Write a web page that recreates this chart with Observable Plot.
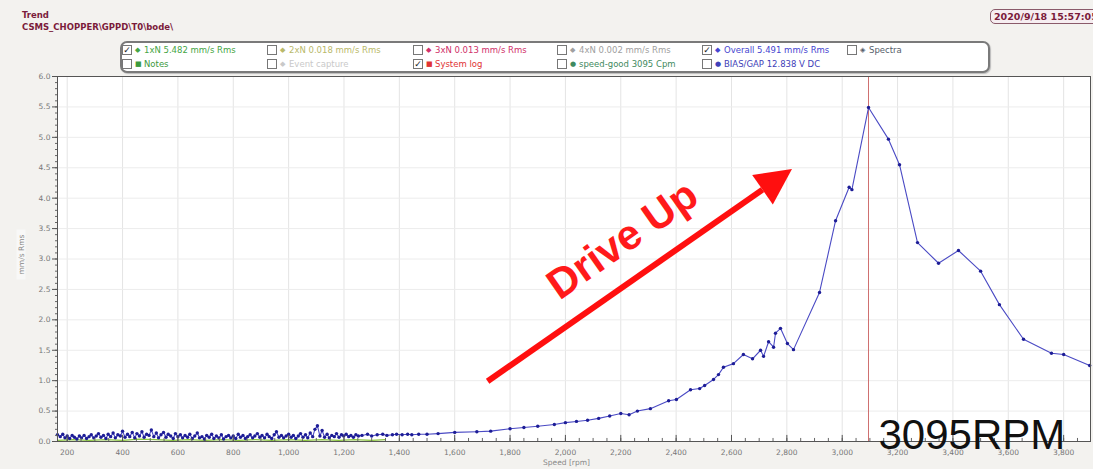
<!DOCTYPE html>
<html>
<head>
<meta charset="utf-8">
<script src="https://cdn.jsdelivr.net/npm/d3@7"></script>
<script src="https://cdn.jsdelivr.net/npm/@observablehq/plot@0.6"></script>
<style>
  body { margin: 0; background: #f3f2ef; font-family: "DejaVu Sans", sans-serif; }
  #wrap { position: relative; width: 1093px; height: 469px; overflow: hidden; }
  #chart { position: absolute; left: 0; top: 0; }
  .abs { position: absolute; white-space: nowrap; }
  .hdr { font-size: 8.5px; font-weight: bold; color: #7b1b3b; left: 22px; }
  #date { left: 990px; top: 9px; width: 130px; height: 13px; border: 1px solid #8a5a6a; border-radius: 5px;
          background: #f6eef1; font-size: 9.5px; font-weight: bold; color: #7b1b3b; line-height: 13px; padding-left: 3px; }
  #legend { left: 120px; top: 41px; width: 866px; height: 28px; border: 2px solid #7a7a7a; border-radius: 7px;
            background: #fff; box-shadow: 1px 1px 1px #bbb; }
  .item { position: absolute; font-size: 8.5px; line-height: 10px; }
  .box { position: absolute; top: 0; width: 8px; height: 8px; border: 1px solid #777; background: #fff;
         font-size: 9px; line-height: 8px; text-align: center; color: #222; }
  .mk { position: absolute; top: 0; font-size: 7px; line-height: 10px; }
  .lab { position: absolute; top: 0; left: 22px; }
  #ylab { left: -4px; top: 250px; width: 50px; text-align: center; transform: rotate(-90deg);
          font-size: 7.5px; color: #888; background: #f8f8f7; }
  #xlab { left: 543px; top: 458px; font-size: 7.5px; color: #888; }
</style>
</head>
<body>
<div id="wrap">
  <div id="chart"></div>
  <div class="abs hdr" style="top:10px">Trend</div>
  <div class="abs hdr" style="top:22px">CSMS_CHOPPER\GPPD\T0\bode\</div>
  <div class="abs" id="date">2020/9/18 15:57:05</div>
  <div class="abs" id="legend"></div>
  <div class="abs" id="ylab">mm/s Rms</div>
  <div class="abs" id="xlab">Speed [rpm]</div>
</div>
<script>
// Overall vibration amplitude (mm/s Rms) against machine speed (rpm) during run-up
const speedRpm = [
  165,175,184,192,200,209,218,226,235,244,252,261,270,279,287,296,305,313,322,331,
  340,348,357,366,374,383,392,400,409,418,426,435,444,452,461,470,478,487,496,504,
  513,522,530,539,548,557,565,574,583,591,600,609,617,626,635,643,652,661,670,678,
  687,696,704,713,722,730,739,748,757,765,774,783,791,800,809,818,826,835,844,852,
  861,870,878,887,896,904,913,922,930,939,948,956,965,974,982,991,1000,1009,1017,1026,
  1035,1043,1052,1061,1069,1078,1087,1095,1104,1113,1121,1130,1139,1147,1156,1165,1173,1182,1191,1199,
  1208,1217,1225,1234,1243,1252,1265,1285,1300,1320,1340,1355,1375,1390,1410,1430,1445,1470,1500,1540,
  1600,1680,1730,1800,1850,1900,1960,2000,2040,2080,2120,2160,2200,2230,2260,2307,2373,2401,2452,2485,
  2503,2535,2553,2571,2607,2643,2676,2705,2716,2734,2752,2759,2777,2802,2824,2918,2976,3025,3035,3095,
  3167,3207,3272,3348,3420,3500,3568,3655,3756,3800,3894
];
const overallMmS = [
  0.11,0.08,0.12,0.06,0.09,0.05,0.10,0.07,0.04,0.09,0.06,0.10,0.05,0.08,0.11,0.06,0.09,0.13,0.07,0.10,
  0.05,0.12,0.08,0.14,0.06,0.11,0.09,0.17,0.07,0.12,0.08,0.15,0.06,0.13,0.09,0.16,0.07,0.12,0.10,0.19,
  0.08,0.14,0.06,0.11,0.15,0.07,0.12,0.09,0.05,0.13,0.08,0.11,0.06,0.10,0.07,0.12,0.05,0.09,0.14,0.06,
  0.08,0.04,0.10,0.07,0.12,0.05,0.09,0.06,0.11,0.04,0.08,0.10,0.06,0.09,0.05,0.12,0.07,0.10,0.05,0.08,
  0.11,0.06,0.09,0.13,0.07,0.10,0.06,0.12,0.08,0.05,0.11,0.16,0.07,0.10,0.06,0.09,0.12,0.07,0.10,0.05,
  0.09,0.13,0.07,0.11,0.06,0.14,0.08,0.20,0.26,0.09,0.18,0.07,0.12,0.06,0.10,0.08,0.13,0.07,0.11,0.09,
  0.12,0.08,0.10,0.07,0.11,0.09,0.10,0.12,0.09,0.11,0.12,0.10,0.11,0.12,0.11,0.12,0.11,0.12,0.12,0.13,
  0.15,0.16,0.17,0.21,0.23,0.25,0.28,0.31,0.33,0.35,0.38,0.42,0.46,0.44,0.50,0.54,0.67,0.69,0.85,0.87,
  0.92,1.02,1.10,1.22,1.28,1.43,1.36,1.50,1.40,1.64,1.55,1.78,1.86,1.61,1.51,2.45,3.63,4.18,4.14,5.49,
  4.97,4.55,3.27,2.93,3.14,2.80,2.25,1.68,1.45,1.43,1.25
];

// 1xN amplitude, visible below the overall trace at low speed
const oneXRpm = [165,220,280,340,400,460,520,580,640,700,760,820,880,940,1000,1060,1120,1180,1240,1300,1350];
const oneXMmS = [0.02,0.03,0.02,0.03,0.02,0.04,0.03,0.02,0.03,0.02,0.03,0.02,0.03,0.02,0.03,0.02,0.03,0.02,0.03,0.02,0.03];

// Axis ticks
const xTicks = d3.range(200, 3801, 200);
const xMinor = d3.range(200, 3851, 50);
const yTicks = d3.range(0, 6.01, 0.5);
const yMinor = d3.range(0, 6.01, 0.1);

// Cursor speed and annotations
const cursorRpm = [3095];
const cursorLabel = ["3095RPM"];
const cursorLabelAt = [{rpm: 3131, mms: 0}];
const arrowFrom = {rpm: 1719, mms: 0.99};
const arrowTo = {rpm: 2712, mms: 4.14};
const arrowText = ["Drive Up"];
const arrowTextAt = [{rpm: 2206, mms: 3.31}];

// Legend entries
const legendLabels = [
  "1xN 5.482 mm/s Rms", "Notes",
  "2xN 0.018 mm/s Rms", "Event capture",
  "3xN 0.013 mm/s Rms", "System log",
  "4xN 0.002 mm/s Rms", "speed-good 3095 Cpm",
  "Overall 5.491 mm/s Rms", "BIAS/GAP 12.838 V DC",
  "Spectra"
];
const legendColors = ["#45a545","#3d9a3d","#b9b96a","#c9c9c9","#d0306a","#e03333","#a0a0a0","#3f8a60","#4545d0","#4040b8","#55606a"];
const legendMarks = ["◆","■","◆","◆","◆","■","◆","●","◆","●","◈"];
const legendChecked = [true,false,false,false,false,true,false,false,true,false,false];

const series = speedRpm.map((rpm, i) => ({rpm, mms: overallMmS[i]}));
const oneX = oneXRpm.map((rpm, i) => ({rpm, mms: oneXMmS[i]}));

const chart = Plot.plot({
  width: 1093,
  height: 469,
  marginLeft: 57,
  marginTop: 76,
  marginRight: 3,
  marginBottom: 28,
  style: {fontFamily: "DejaVu Sans, sans-serif", fontSize: "7.5px", color: "#777", background: "transparent"},
  x: {domain: [165, 3897], label: null},
  y: {domain: [0, 6], label: null},
  marks: [
    Plot.frame({fill: "white", stroke: "none"}),
    Plot.gridX(xTicks, {stroke: "#e4e4e4", strokeOpacity: 1}),
    Plot.gridY(yTicks, {stroke: "#ececec", strokeOpacity: 1}),
    Plot.ruleX(cursorRpm, {stroke: "#cf7070", strokeWidth: 1}),
    Plot.line(oneX, {x: "rpm", y: "mms", stroke: "#8cc63f", strokeWidth: 1.2}),
    Plot.line(series, {x: "rpm", y: "mms", stroke: "#4a4ac4", strokeWidth: 1.1}),
    Plot.dot(series, {x: "rpm", y: "mms", r: 1.7, fill: "#1d1d96", stroke: "none"}),
    Plot.ruleX(xMinor, {y1: 0, y2: 0.05, stroke: "#666"}),
    Plot.ruleX(xTicks, {y1: 0, y2: 0.1, stroke: "#555"}),
    Plot.frame({stroke: "#555"}),
    Plot.axisX(xTicks, {tickSize: 0, tickPadding: 8, tickFormat: d3.format(","), fill: "#777"}),
    Plot.axisY(yMinor, {tickSize: 2, tickFormat: () => "", stroke: "#666"}),
    Plot.axisY(yTicks, {tickSize: 5, tickPadding: 2, tickFormat: d3.format(".1f"), fill: "#777", stroke: "#555"}),
    Plot.link([{x1: arrowFrom.rpm, y1: arrowFrom.mms, x2: arrowTo.rpm, y2: arrowTo.mms}],
      {x1: "x1", y1: "y1", x2: "x2", y2: "y2", stroke: "#ff0f0f", strokeWidth: 6}),
    Plot.vector([arrowTo], {x: "rpm", y: "mms", shape: "spike", anchor: "start",
      length: 36, r: 18, rotate: 55, fill: "#ff0f0f", stroke: "none"}),
    Plot.text(arrowText, {x: () => arrowTextAt[0].rpm, y: () => arrowTextAt[0].mms, text: d => d,
      rotate: -35, fontSize: 42, fontWeight: "bold", fill: "#ff1a1a", fontFamily: "Liberation Sans, sans-serif"}),
    Plot.text(cursorLabel, {x: () => cursorLabelAt[0].rpm, y: () => cursorLabelAt[0].mms, text: d => d,
      textAnchor: "start", lineAnchor: "bottom", dy: 7, fontSize: 42, fill: "#111",
      fontFamily: "Liberation Sans, sans-serif"})
  ]
});
document.getElementById("chart").appendChild(chart);

// Legend panel
const legend = document.getElementById("legend");
const colLeft = [0, 145, 291, 435, 580, 725];
legendLabels.forEach((label, i) => {
  const col = Math.floor(i / 2), row = i % 2;
  const item = document.createElement("div");
  item.className = "item";
  item.style.left = colLeft[col] + "px";
  item.style.top = (row === 0 ? 2 : 16) + "px";
  item.style.color = legendColors[i];
  item.innerHTML =
    `<div class="box">${legendChecked[i] ? "✓" : ""}</div>` +
    `<div class="mk" style="left:13px;color:${legendColors[i]}">${legendMarks[i]}</div>` +
    `<div class="lab">${label}</div>`;
  legend.appendChild(item);
});
</script>
</body>
</html>
